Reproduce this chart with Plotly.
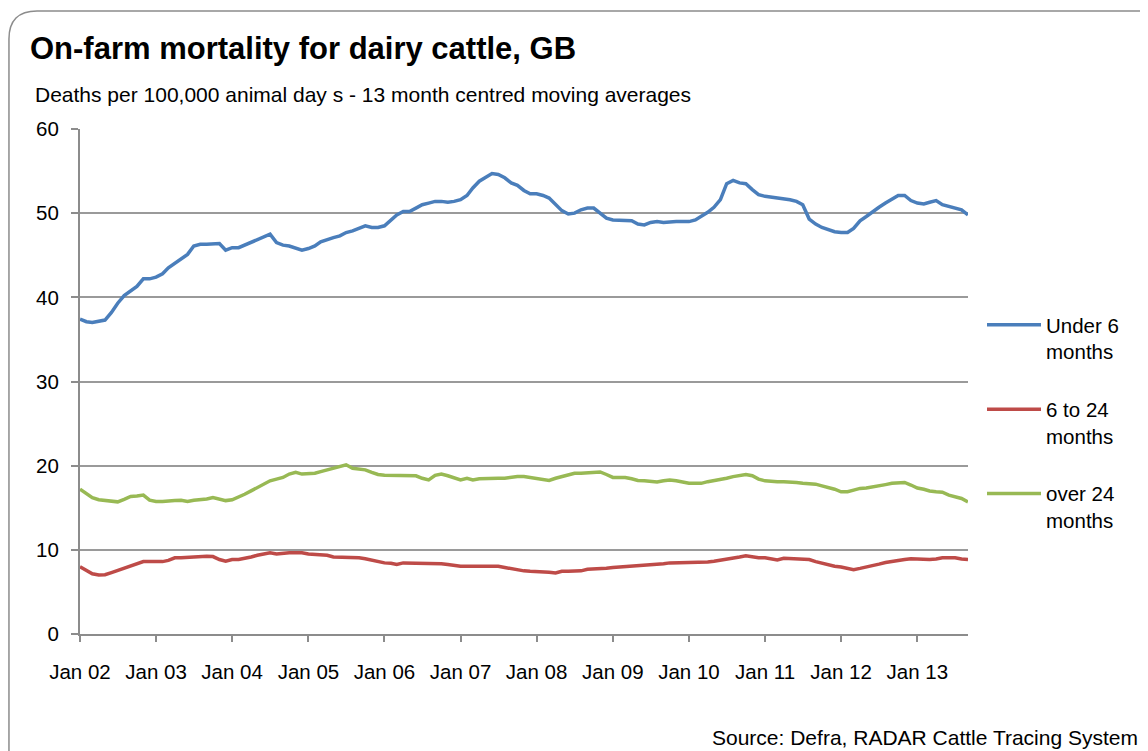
import pandas as pd
import plotly.graph_objects as go

# monthly points, Jan 2002 - Sep 2013
months = pd.date_range("2002-01-01", periods=141, freq="MS")

under_6 = [
    37.4, 37.1, 37.0, 37.1, 37.3, 38.2, 39.3, 40.2, 40.8, 41.3, 42.2, 42.2,
    42.4, 42.8, 43.5, 44.0, 44.5, 45.1, 46.1, 46.3, 46.3, 46.4, 46.4, 45.6,
    45.9, 45.9, 46.2, 46.6, 46.8, 47.2, 47.5, 46.5, 46.2, 46.1, 45.8, 45.6,
    45.8, 46.1, 46.6, 46.9, 47.1, 47.3, 47.7, 47.9, 48.2, 48.5, 48.3, 48.3,
    48.5, 49.2, 49.8, 50.2, 50.2, 50.6, 51.0, 51.2, 51.4, 51.4, 51.3, 51.4,
    51.6, 52.1, 53.0, 53.8, 54.3, 54.7, 54.6, 54.2, 53.6, 53.3, 52.7, 52.3,
    52.3, 52.1, 51.8, 51.1, 50.3, 49.9, 50.0, 50.4, 50.6, 50.6, 50.0, 49.4,
    49.2, 49.2, 49.2, 49.1, 48.7, 48.6, 48.9, 49.0, 48.9, 49.0, 49.0, 49.0,
    49.0, 49.2, 49.6, 50.1, 50.7, 51.6, 53.5, 53.9, 53.6, 53.5, 52.8, 52.2,
    52.0, 51.9, 51.9, 51.8, 51.6, 51.4, 51.0, 49.3, 48.7, 48.3, 48.0, 47.8,
    47.7, 47.7, 48.2, 49.1, 49.6, 50.2, 50.7, 51.2, 51.7, 52.1, 52.1, 51.5,
    51.2, 51.1, 51.3, 51.5, 51.0, 50.8, 50.6, 50.4, 49.8,
]

six_to_24 = [
    8.0, 7.5, 7.15, 7.0, 7.05, 7.3, 7.55, 7.9, 8.1, 8.35, 8.6, 8.6,
    8.6, 8.6, 8.75, 9.05, 9.05, 9.1, 9.25, 9.25, 9.25, 9.2, 8.85, 8.65,
    8.85, 8.85, 8.95, 9.15, 9.35, 9.55, 9.65, 9.5, 9.6, 9.65, 9.65, 9.65,
    9.5, 9.45, 9.4, 9.35, 9.15, 9.15, 9.1, 9.05, 9.05, 8.95, 8.75, 8.55,
    8.45, 8.4, 8.25, 8.45, 8.45, 8.45, 8.45, 8.45, 8.45, 8.35, 8.25, 8.1,
    8.05, 8.05, 8.05, 8.05, 8.05, 8.05, 8.05, 7.9, 7.75, 7.65, 7.5, 7.45,
    7.45, 7.45, 7.35, 7.25, 7.45, 7.45, 7.45, 7.5, 7.7, 7.7, 7.75, 7.8,
    7.9, 7.95, 8.0, 8.05, 8.15, 8.2, 8.25, 8.3, 8.35, 8.45, 8.45, 8.45,
    8.45, 8.45, 8.45, 8.55, 8.65, 8.75, 8.95, 9.05, 9.15, 9.3, 9.15, 9.05,
    9.05, 8.95, 8.8, 9.0, 8.95, 8.9, 8.9, 8.85, 8.6, 8.4, 8.2, 8.05,
    7.95, 7.8, 7.65, 7.8, 8.0, 8.2, 8.3, 8.5, 8.65, 8.8, 8.85, 8.95,
    8.9, 8.85, 8.85, 8.9, 9.05, 9.05, 9.05, 8.9, 8.85,
]

over_24 = [
    17.2, 16.7, 16.2, 15.95, 15.9, 15.8, 15.7, 16.0, 16.35, 16.4, 16.5, 15.9,
    15.75, 15.75, 15.75, 15.85, 15.9, 15.75, 15.9, 15.95, 16.05, 16.2, 16.05, 15.85,
    15.95, 16.25, 16.6, 17.0, 17.4, 17.8, 18.2, 18.4, 18.6, 19.0, 19.2, 19.0,
    19.05, 19.1, 19.3, 19.5, 19.7, 19.9, 20.1, 19.7, 19.55, 19.5, 19.2, 18.95,
    18.85, 18.85, 18.85, 18.85, 18.85, 18.8, 18.5, 18.3, 18.85, 19.0, 18.8, 18.5,
    18.3, 18.5, 18.3, 18.45, 18.5, 18.5, 18.5, 18.5, 18.65, 18.7, 18.7, 18.6,
    18.45, 18.3, 18.25, 18.5, 18.7, 18.95, 19.1, 19.1, 19.15, 19.3, 19.25, 18.95,
    18.6, 18.6, 18.6, 18.45, 18.25, 18.2, 18.1, 18.05, 18.2, 18.3, 18.2, 18.0,
    17.9, 17.9, 17.9, 18.1, 18.2, 18.3, 18.5, 18.7, 18.85, 18.95, 18.8, 18.4,
    18.2, 18.1, 18.1, 18.1, 18.1, 18.0, 17.9, 17.9, 17.8, 17.6, 17.4, 17.2,
    16.9, 16.9, 17.1, 17.3, 17.35, 17.45, 17.55, 17.75, 17.9, 18.0, 18.0, 17.7,
    17.35, 17.2, 17.0, 16.9, 16.85, 16.5, 16.3, 16.1, 15.7,
]

series = [
    ("Under 6<br>months", under_6, "#4a7ebb"),
    ("6 to 24<br>months", six_to_24, "#be4b48"),
    ("over 24<br>months", over_24, "#98b954"),
]

FONT = "Arial, Liberation Sans, sans-serif"

fig = go.Figure()
for i, (name, vals, col) in enumerate(series):
    fig.add_trace(go.Scatter(
        x=months, y=vals, name=name, mode="lines",
        line=dict(color=col, width=3.5), legendgroup=str(i),
    ))

# page body has an 8px margin, so the figure is drawn 8px smaller
fig.update_layout(
    width=1140, height=743,
    margin=dict(l=72, r=180, t=121, b=117),
    paper_bgcolor="white", plot_bgcolor="white",
    font=dict(family=FONT, size=20.5, color="black"),
    title=dict(
        text="<b>On-farm mortality for dairy cattle, GB</b>",
        font=dict(size=31, color="black"),
        xref="container", x=22 / 1140, xanchor="left",
        yref="container", y=1 - 40 / 743, yanchor="middle",
    ),
    xaxis=dict(
        range=[months[0], months[-1]],
        tick0="2002-01-01", dtick="M12", tickformat="%b %y",
        showgrid=False, showline=True, linecolor="#8c8c8c", linewidth=2,
        ticks="outside", ticklen=6, tickcolor="#8c8c8c", tickwidth=1.5,
        ticklabelstandoff=12,
    ),
    yaxis=dict(
        range=[0, 60], dtick=10,
        showgrid=True, gridcolor="#9a9a9a", gridwidth=2,
        showline=True, linecolor="#8c8c8c", linewidth=2,
        ticks="outside", ticklen=7, tickcolor="#8c8c8c", tickwidth=1.5,
        ticklabelstandoff=8, zeroline=False,
    ),
    legend=dict(
        x=(982 - 80) / 888, xanchor="left",
        y=(634 - 305) / 505, yanchor="top",
        valign="top", tracegroupgap=28,
        font=dict(size=20.5), itemwidth=54,
    ),
    showlegend=True,
)

fig.add_annotation(
    text="Deaths per 100,000 animal day s - 13 month centred moving averages",
    xref="paper", yref="paper", x=(33 - 80) / 888, y=(634 - 95) / 505,
    xanchor="left", yanchor="middle", showarrow=False, font=dict(size=21),
)
fig.add_annotation(
    text="Source: Defra, RADAR Cattle Tracing System",
    xref="paper", yref="paper", x=(1140 - 80) / 888, y=(634 - 737) / 505,
    xanchor="right", yanchor="middle", showarrow=False, font=dict(size=21),
)

# rounded frame round the whole chart (runs off the right and bottom)
fig.add_shape(
    type="path", xref="paper", yref="paper",
    path="M -0.0800,-0.2495 L -0.0800,1.1782 Q -0.0800,1.2337 -0.0484,1.2337 L 1.2162,1.2337",
    line=dict(color="#8c8c8c", width=1.5),
)

fig.write_html("out.html")
